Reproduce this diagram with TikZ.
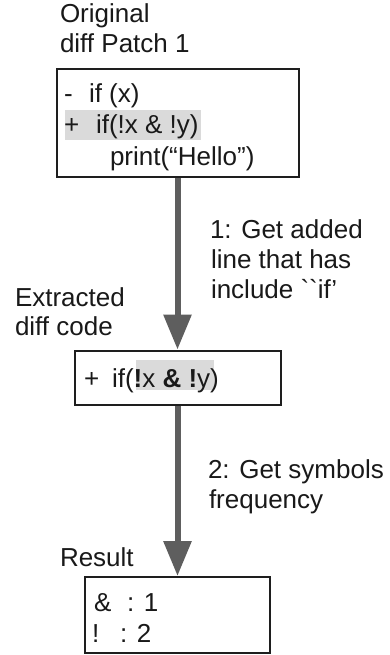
\documentclass[tikz,border=0pt]{standalone}
\usepackage{fontspec}
\setmainfont{Liberation Sans}[Ligatures=TeXOff]
\usetikzlibrary{arrows.meta}
\definecolor{arrowgray}{HTML}{5E5E5E}
\definecolor{hlgray}{HTML}{DADADA}
\definecolor{boxline}{HTML}{1E1E1E}
\tikzset{
  txt/.style={anchor=base west, inner sep=0pt, outer sep=0pt, font=\fontsize{26}{31}\selectfont, text=black!90},
  box/.style={draw=boxline, line width=2pt, inner sep=0pt, fill=none},
  flow/.style={draw=arrowgray, line width=6pt, -{Triangle[width=27pt,length=35pt]}},
  hl/.style={fill=hlgray, draw=none}
}
\begin{document}
\begin{tikzpicture}[x=1pt, y=-1pt]
\useasboundingbox (0,0) rectangle (390,655);
\fill[white] (0,0) rectangle (390,655);

% highlights
\fill[hl] (65,110) rectangle (201,140);
\fill[hl] (136,360) rectangle (214,390);

% boxes
\node[box, minimum width=242pt, minimum height=108pt] (b1) at (177.5,123) {};
\node[box, minimum width=206pt, minimum height=54pt] (b2) at (177.5,377.5) {};
\node[box, minimum width=185pt, minimum height=76pt] (b3) at (177.5,615) {};

% arrows
\draw[flow] (b1.south) -- (b2.north);
\draw[flow] (b2.south) -- (b3.north);

% labels
\node[txt] (l1) at (60,23) {Original};
\node[txt] (l2) at (60,53) {diff Patch 1};
\node[txt] (l3) at (15,306) {Extracted};
\node[txt] (l4) at (15,335) {diff code};
\node[txt] (l5) at (60,566) {Result};

\node[txt] (s1a) at (210,238) {1: Get added};
\node[txt] (s1b) at (211,268) {line that has};
\node[txt] (s1c) at (211,298) {include ``if’};
\node[txt] (s2a) at (208,478) {2: Get symbols};
\node[txt] (s2b) at (209,508) {frequency};

% box 1 text
\node[txt] (m1) at (64,103) {-};
\node[txt] (c1) at (89,103) {if (x)};
\node[txt] (m2) at (64,134) {+};
\node[txt] (c2) at (96,134) {if(!x \& !y)};
\node[txt] (c3) at (110,165) {print(“Hello”)};

% box 2 text
\node[txt] (m3) at (84,387) {+};
\node[txt] (c4) at (112,387) {if(\textbf{!}x \textbf{\&} \textbf{!}y)};

% box 3 text
\node[txt] (r1a) at (94,611) {\&};
\node[txt] (r1b) at (127,611) {: 1};
\node[txt] (r2a) at (92,642) {!};
\node[txt] (r2b) at (120,642) {: 2};
\end{tikzpicture}
\end{document}
